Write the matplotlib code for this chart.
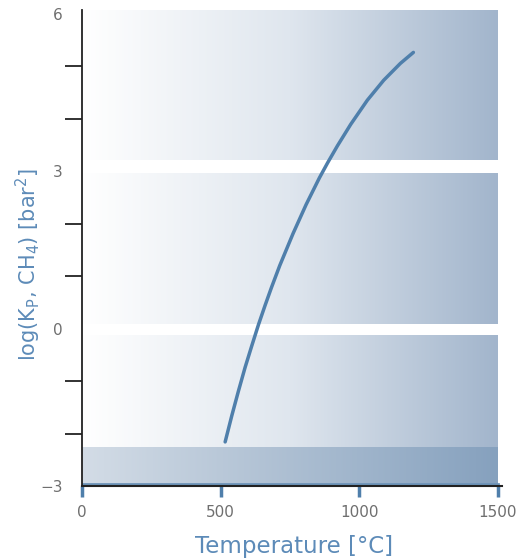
import numpy as np
import matplotlib.pyplot as plt
from matplotlib.colors import LinearSegmentedColormap

# values
temperature = [516, 540, 564, 588, 612, 636, 660, 683, 713, 761,
               808, 856, 886, 921, 969, 1029, 1088, 1148, 1195]
log_kp = [-2.16, -1.66, -1.19, -0.74, -0.33, 0.07, 0.44, 0.78, 1.20, 1.81,
          2.36, 2.87, 3.16, 3.48, 3.89, 4.35, 4.73, 5.05, 5.26]

x_ticks = [0, 500, 1000, 1500]
y_labeled = [-3, 0, 3, 6]
y_unlabeled = [-2, -1, 1, 2, 4, 5]

blue = '#4f7fab'
label_blue = '#5d8bb8'
tick_grey = '#6f6f6f'

fig = plt.figure(figsize=(5.23, 5.59), dpi=100)
ax = fig.add_axes([0.157, 0.1306, 0.803, 0.8517])

xmin, xmax = 0, 1500
ymin, ymax = -3, 6.07

main_cmap = LinearSegmentedColormap.from_list('main', ['#ffffff', '#dfe6ee', '#a2b5cc'])
low_cmap = LinearSegmentedColormap.from_list('low', ['#d3dce6', '#86a1be'])
grad = np.linspace(0, 1, 256).reshape(1, -1)

ax.imshow(grad, cmap=main_cmap, extent=[xmin, xmax, -2.26, ymax],
          aspect='auto', zorder=0, interpolation='bicubic')
ax.imshow(grad, cmap=low_cmap, extent=[xmin, xmax, ymin, -2.26],
          aspect='auto', zorder=0, interpolation='bicubic')

# white separator bands
ax.axhspan(2.97, 3.21, color='white', lw=0, zorder=1)
ax.axhspan(-0.12, 0.08, color='white', lw=0, zorder=1)
ax.axhline(-2.96, xmax=xmax / 1515, color='#6d93b8', lw=2, zorder=1)

ax.plot(temperature, log_kp, color=blue, lw=2.5, solid_capstyle='round',
        solid_joinstyle='round', zorder=3)

ax.set_xlim(xmin, 1515)
ax.set_ylim(ymin, ymax)

ax.set_xticks(x_ticks)
ax.set_yticks(y_labeled)
ax.set_yticks(y_unlabeled, minor=True)
ax.tick_params(axis='x', colors=blue, length=8, width=2.5, labelcolor=tick_grey,
               labelsize=11, pad=6)
ax.tick_params(axis='y', which='major', length=0, labelcolor=tick_grey,
               labelsize=11, pad=14)
ax.tick_params(axis='y', which='minor', length=12, width=1.3, color='#222222')

for s in ['top', 'right']:
    ax.spines[s].set_visible(False)
ax.spines['left'].set_linewidth(1.3)
ax.spines['bottom'].set_linewidth(1.5)
ax.spines['left'].set_color('#222222')
ax.spines['bottom'].set_color('#222222')

ax.set_xlabel('Temperature [°C]', color=label_blue, fontsize=16.5)
ax.xaxis.set_label_coords(0.505, -0.102)
ax.set_ylabel(r'log(K$_\mathregular{P}$, CH$_\mathregular{4}$) [bar$^\mathregular{2}$]',
              color=label_blue, fontsize=15)
ax.yaxis.set_label_coords(-0.093, 0.465)

fig.savefig('out.png', dpi=100)
